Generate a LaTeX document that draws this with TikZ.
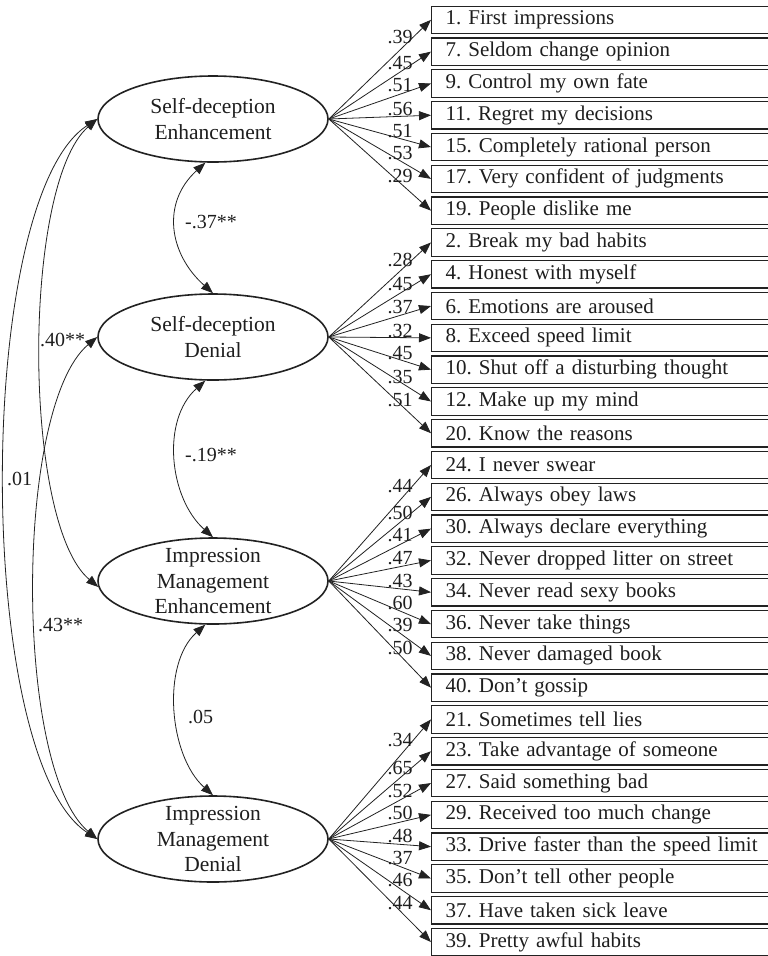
\documentclass[tikz,border=0pt]{standalone}
\usepackage{fontspec}
\setmainfont{Liberation Serif}
\usetikzlibrary{arrows.meta,shapes.geometric}
\definecolor{ink}{HTML}{222222}
\definecolor{txt}{HTML}{1e1e1e}
\frenchspacing
\begin{document}
\begin{tikzpicture}[x=1pt,y=-1pt,
  latent/.style={ellipse, draw=ink, line width=1.6pt, minimum width=230pt, minimum height=86pt, inner sep=0pt},
  latenttext/.style={align=center, font=\fontsize{21.5}{25.5}\selectfont, text=txt, inner sep=0pt},
  itembox/.style={rectangle, draw=ink, line width=1.2pt, anchor=north west, minimum width=358pt, minimum height=27.5pt, text width=330pt, inner xsep=14pt, inner ysep=0pt, align=left, font=\fontsize{21}{24}\selectfont, text=txt},
  load/.style={draw=ink, line width=0.8pt, -{Triangle[length=12pt,width=9pt]}},
  corr/.style={draw=ink, line width=0.8pt, {Triangle[length=12pt,width=9pt]}-{Triangle[length=12pt,width=9pt]}},
  coef/.style={font=\fontsize{20}{22}\selectfont, text=txt, inner sep=0pt}
]
\useasboundingbox[fill=white] (0,0) rectangle (768,956);

% latent factors
\node[latent, label={[latenttext]center:{Self-deception\\Enhancement}}] (sde) at (213,119) {};
\node[latent, label={[latenttext]center:{Self-deception\\Denial}}] (sdd) at (213,337) {};
\node[latent, label={[latenttext]center:{Impression\\Management\\Enhancement}}] (ime) at (213,581) {};
\node[latent, label={[latenttext]center:{Impression\\Management\\Denial}}] (imd) at (213,839) {};

% item boxes
\foreach \t [count=\i from 0] in {
  {1. First impressions},{7. Seldom change opinion},{9. Control my own fate},{11. Regret my decisions},
  {15. Completely rational person},{17. Very confident of judgments},{19. People dislike me},
  {2. Break my bad habits},{4. Honest with myself},{6. Emotions are aroused},{8. Exceed speed limit},
  {10. Shut off a disturbing thought},{12. Make up my mind},{20. Know the reasons},
  {24. I never swear},{26. Always obey laws},{30. Always declare everything},{32. Never dropped litter on street},
  {34. Never read sexy books},{36. Never take things},{38. Never damaged book},{40. Don’t gossip},
  {21. Sometimes tell lies},{23. Take advantage of someone},{27. Said something bad},{29. Received too much change},
  {33. Drive faster than the speed limit},{35. Don’t tell other people},{37. Have taken sick leave},{39. Pretty awful habits}}
{
  \node[itembox] (b\i) at (431,{5.5+31.8*\i}) {\t};
}

% loadings
\foreach \j/\v/\ly in {0/.39/37,1/.45/63,2/.51/85,3/.56/109,4/.51/131,5/.53/153,6/.29/176}{
  \draw[load] (sde.east) -- (b\j.west);
  \node[coef] (l\j) at (400,\ly) {\v};
}
\foreach \j/\v/\ly in {7/.28/260,8/.45/284,9/.37/307,10/.32/331,11/.45/353,12/.35/377,13/.51/400}{
  \draw[load] (sdd.east) -- (b\j.west);
  \node[coef] (l\j) at (400,\ly) {\v};
}
\foreach \j/\v/\ly in {14/.44/486,15/.50/513,16/.41/535,17/.47/558,18/.43/581,19/.60/603,20/.39/625,21/.50/648}{
  \draw[load] (ime.east) -- (b\j.west);
  \node[coef] (l\j) at (400,\ly) {\v};
}
\foreach \j/\v/\ly in {22/.34/740,23/.65/768,24/.52/791,25/.50/813,26/.48/836,27/.37/858,28/.46/880,29/.44/903}{
  \draw[load] (imd.east) -- (b\j.west);
  \node[coef] (l\j) at (400,\ly) {\v};
}

% correlations between adjacent factors
\draw[corr] (sde.260) .. controls (161,203) and (169,254) .. (sdd.north);
\draw[corr] (sdd.260) .. controls (161,420) and (169,498) .. (ime.north);
\draw[corr] (ime.260) .. controls (161,664) and (169,756) .. (imd.north);
\node[coef, anchor=west] (c1) at (185,222) {-.37**};
\node[coef, anchor=west] (c2) at (185,455) {-.19**};
\node[coef, anchor=west] (c3) at (188,717) {.05};

% correlations on the left
\draw[corr] (sde.west) .. controls (-26,199) and (-26,759) .. (imd.west);
\draw[corr] (sde.west) .. controls (22,184) and (22,523) .. (ime.183);
\draw[corr] (sdd.west) .. controls (14,407) and (14,769) .. (imd.west);
\node[coef, anchor=west] (c4) at (7,479) {.01};
\node[coef, anchor=west] (c5) at (40,340) {.40**};
\node[coef, anchor=west] (c6) at (38,625) {.43**};
\end{tikzpicture}
\end{document}
